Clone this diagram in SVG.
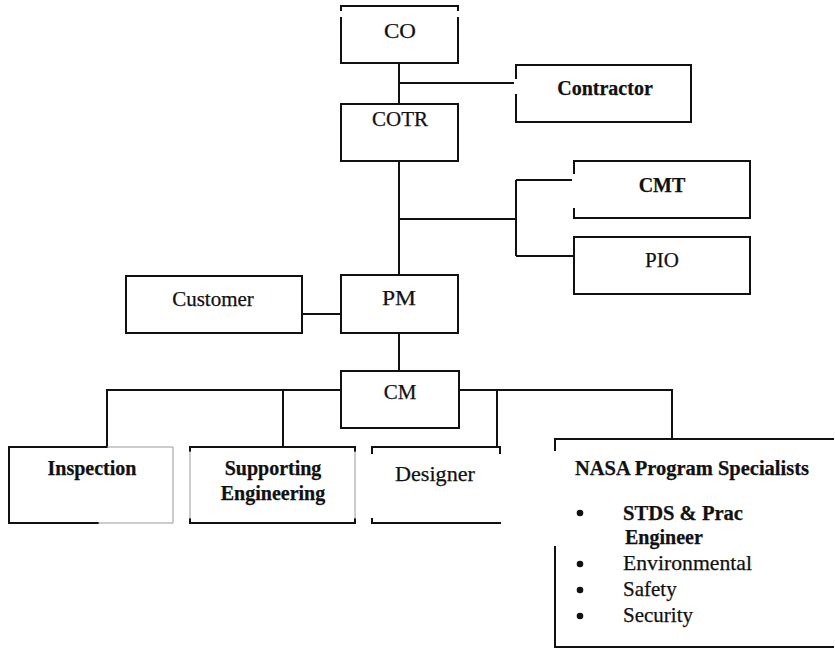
<svg xmlns="http://www.w3.org/2000/svg" width="835" height="651" viewBox="0 0 835 651">
  <style>
    .edge { fill: none; stroke: #111; stroke-width: 2; stroke-linecap: square; }
    .faint { fill: none; stroke: #999; stroke-width: 1; }
    .wire { fill: none; stroke: #111; stroke-width: 2; }
    .dot { fill: #111; }
    text { font-family: "Liberation Serif", "Times New Roman", serif; font-size: 21px; fill: #111; stroke: #111; stroke-width: 0.25; }
    .c { text-anchor: middle; }
    .b { font-weight: bold; font-size: 20px; }
  </style>
  <rect width="835" height="651" fill="#fff"/>

  <!-- connectors -->
  <g id="connectors">
    <!-- CO / Contractor / COTR -->
    <path class="wire" d="M399 63 V104"/>
    <path class="wire" d="M399 83 H514"/>
    <!-- COTR / staff / PM -->
    <path class="wire" d="M399 161 V275"/>
    <path class="wire" d="M399 219 H516"/>
    <path class="wire" d="M516 180 V256"/>
    <path class="wire" d="M516 180 H572"/>
    <path class="wire" d="M516 256 H574"/>
    <!-- Customer / PM -->
    <path class="wire" d="M302 314 H341"/>
    <!-- PM / CM -->
    <path class="wire" d="M399 333 V371"/>
    <!-- CM branches -->
    <path class="wire" d="M341 390 H107 V447"/>
    <path class="wire" d="M283 390 V447"/>
    <path class="wire" d="M459 390 H672 V439"/>
    <path class="wire" d="M497 390 V447"/>
  </g>

  <g id="node-co">
    <path class="edge" d="M341 10 V6 H458 V10 M341 18 V63 H458 V18"/>
    <text class="c" x="400" y="38" textLength="32" lengthAdjust="spacingAndGlyphs">CO</text>
  </g>

  <g id="node-contractor">
    <path class="edge" d="M516 78 V65 H691 V122 H516 V95"/>
    <text class="c b" x="605" y="95">Contractor</text>
  </g>

  <g id="node-cotr">
    <rect class="edge" x="341" y="104" width="117" height="57"/>
    <text class="c" x="400" y="126">COTR</text>
  </g>

  <g id="node-cmt">
    <path class="edge" d="M574 173 V161 H750 V218 H574 V209"/>
    <text class="c b" x="662" y="192">CMT</text>
  </g>

  <g id="node-pio">
    <rect class="edge" x="574" y="237" width="176" height="57"/>
    <text class="c" x="662" y="267">PIO</text>
  </g>

  <g id="node-customer">
    <rect class="edge" x="126" y="276" width="176" height="57"/>
    <text class="c" x="213" y="306">Customer</text>
  </g>

  <g id="node-pm">
    <rect class="edge" x="341" y="275" width="117" height="58"/>
    <text class="c" x="399" y="305" textLength="34" lengthAdjust="spacingAndGlyphs">PM</text>
  </g>

  <g id="node-cm">
    <rect class="edge" x="341" y="371" width="118" height="57"/>
    <text class="c" x="400" y="399">CM</text>
  </g>

  <g id="node-inspection">
    <path class="edge" d="M107 447 H9 V523 H98"/>
    <path class="faint" d="M107 447 H173 V523 H98"/>
    <text class="c b" x="92" y="475">Inspection</text>
  </g>

  <g id="node-supporting">
    <path class="edge" d="M190 451 V447 H355 V451 M190 519 V523 H355 V519"/>
    <path class="faint" d="M190 451 V519 M355 451 V519"/>
    <text class="c b" x="273" y="475">Supporting</text>
    <text class="c b" x="273" y="500">Engineering</text>
  </g>

  <g id="node-designer">
    <path class="edge" d="M372 453 V447 H500 V453 M372 519 V523 H500"/>
    <text class="c" x="435" y="481" textLength="80" lengthAdjust="spacingAndGlyphs">Designer</text>
  </g>

  <g id="node-nasa">
    <path class="edge" d="M555 450 V439 H833 M555 547 V647 H833"/>
    <text class="b" x="575" y="475" textLength="234" lengthAdjust="spacingAndGlyphs">NASA Program Specialists</text>
    <circle class="dot" cx="580" cy="513" r="3.3"/>
    <text class="b" x="623" y="520" textLength="120" lengthAdjust="spacingAndGlyphs">STDS &amp; Prac</text>
    <text class="b" x="625" y="544">Engineer</text>
    <circle class="dot" cx="580" cy="564" r="3.3"/>
    <text x="623" y="570" textLength="129" lengthAdjust="spacingAndGlyphs">Environmental</text>
    <circle class="dot" cx="580" cy="590" r="3.3"/>
    <text x="623" y="596">Safety</text>
    <circle class="dot" cx="580" cy="616" r="3.3"/>
    <text x="623" y="622">Security</text>
  </g>
</svg>
